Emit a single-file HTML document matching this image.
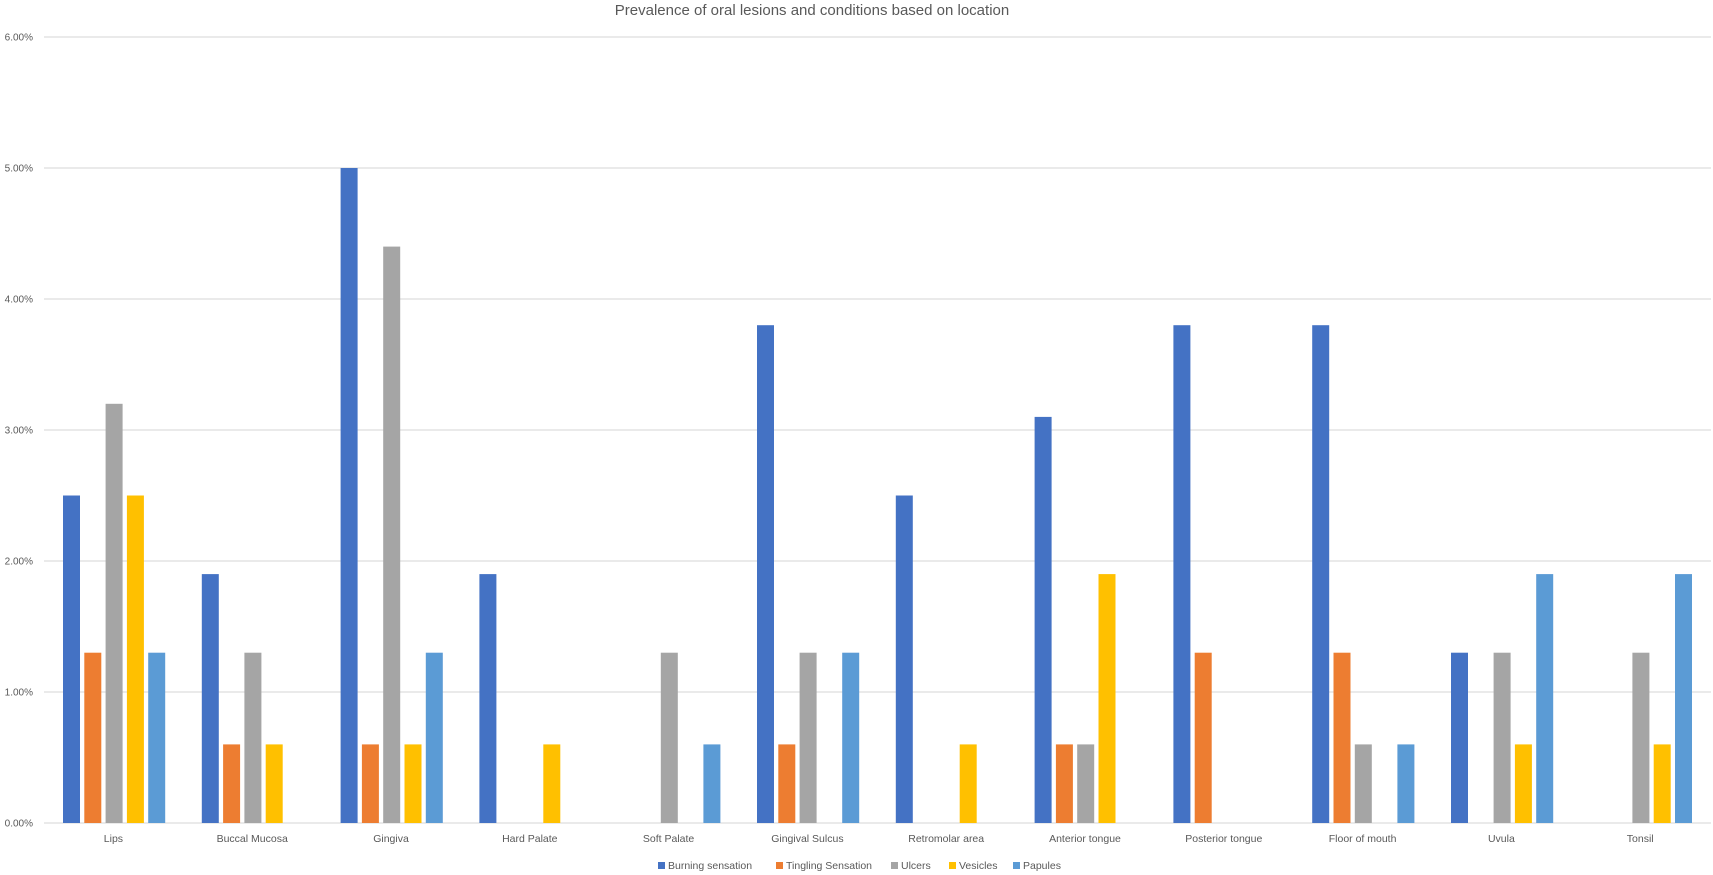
<!DOCTYPE html>
<html><head><meta charset="utf-8"><style>
html,body{margin:0;padding:0;background:#fff;}
svg{display:block;font-family:"Liberation Sans",sans-serif;}
</style></head><body>
<svg id="c" width="1713" height="875" xmlns="http://www.w3.org/2000/svg"></svg>
<script>
var s='';
var y0=823,u=131;
for(var k=0;k<=6;k++){var y=y0-k*u;
s+='<line x1="44" x2="1711" y1="'+y+'" y2="'+y+'" stroke="#e4e4e4" stroke-width="1.5"/>';
s+='<text x="33" y="'+(y+3.5)+'" font-size="10" fill="#595959" text-anchor="end">'+k+'.00%</text>';}
var cats=["Lips","Buccal Mucosa","Gingiva","Hard Palate","Soft Palate","Gingival Sulcus","Retromolar area","Anterior tongue","Posterior tongue","Floor of mouth","Uvula","Tonsil"];
var d=[[2.5,1.3,3.2,2.5,1.3],[1.9,0.6,1.3,0.6,0],[5,0.6,4.4,0.6,1.3],[1.9,0,0,0.6,0],[0,0,1.3,0,0.6],[3.8,0.6,1.3,0,1.3],[2.5,0,0,0.6,0],[3.1,0.6,0.6,1.9,0],[3.8,1.3,0,0,0],[3.8,1.3,0.6,0,0.6],[1.3,0,1.3,0.6,1.9],[0,0,1.3,0.6,1.9]];
var col=["#4472c4","#ed7d31","#a5a5a5","#ffc000","#5b9bd5"];
for(var i=0;i<12;i++){var b=44+138.8*i;
for(var j=0;j<5;j++){var v=d[i][j];if(!v)continue;var h=v*u;
s+='<rect x="'+(b+19+21.3*j).toFixed(1)+'" y="'+(y0-h).toFixed(1)+'" width="17" height="'+h.toFixed(1)+'" fill="'+col[j]+'"/>';}
s+='<text x="'+(b+69.4).toFixed(1)+'" y="842" font-size="10.5" fill="#595959" text-anchor="middle">'+cats[i]+'</text>';}
s+='<text x="812" y="15" font-size="15" fill="#595959" text-anchor="middle">Prevalence of oral lesions and conditions based on location</text>';
var L=[["Burning sensation",658],["Tingling Sensation",776],["Ulcers",891],["Vesicles",949],["Papules",1013]];
for(var j=0;j<5;j++){s+='<rect x="'+L[j][1]+'" y="862" width="7" height="7" fill="'+col[j]+'"/>';
s+='<text x="'+(L[j][1]+10)+'" y="869" font-size="10.5" fill="#595959">'+L[j][0]+'</text>';}
document.getElementById('c').innerHTML=s;
</script>
</body></html>
